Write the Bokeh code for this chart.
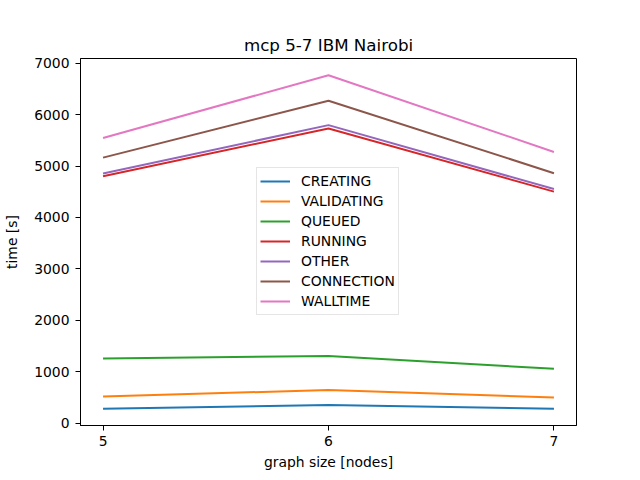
from bokeh.plotting import figure
from bokeh.models import Range1d, FixedTicker, Legend, LegendItem
from bokeh.embed import file_html
from bokeh.resources import INLINE

nodes = [5, 6, 7]
creating = [276, 348, 276]
validating = [514, 643, 495]
queued = [1256, 1306, 1055]
running = [4803, 5730, 4502]
other = [4855, 5796, 4552]
connection = [5164, 6271, 4861]
walltime = [5545, 6768, 5274]

series_names = ["CREATING", "VALIDATING", "QUEUED", "RUNNING", "OTHER", "CONNECTION", "WALLTIME"]
series_values = [creating, validating, queued, running, other, connection, walltime]
colors = ["#1f77b4", "#ff7f0e", "#2ca02c", "#d62728", "#9467bd", "#8c564b", "#e377c2"]
x_ticks = [5, 6, 7]
y_ticks = [0, 1000, 2000, 3000, 4000, 5000, 6000, 7000]

FONT = "DejaVu Sans"

all_vals = [v for s in series_values for v in s]
ymin, ymax = min(all_vals), max(all_vals)
ypad = 0.05 * (ymax - ymin)
xpad = 0.05 * (max(nodes) - min(nodes))

p = figure(width=632, height=472, output_backend="svg", toolbar_location=None,
           x_range=Range1d(min(nodes) - xpad, max(nodes) + xpad),
           y_range=Range1d(ymin - ypad, ymax + ypad),
           title="mcp 5-7 IBM Nairobi",
           x_axis_label="graph size [nodes]", y_axis_label="time [s]")
p.min_border_left = 80
p.min_border_right = 56
p.min_border_top = 58
p.min_border_bottom = 45

p.title.align = "center"
p.title.text_font = FONT
p.title.text_font_size = "16.7px"
p.title.text_font_style = "normal"
p.title.text_color = "black"
p.title.standoff = 8

p.xgrid.visible = False
p.ygrid.visible = False
p.outline_line_color = "black"
p.outline_line_alpha = 1
p.outline_line_width = 1
p.background_fill_color = "white"
p.border_fill_color = "white"

p.xaxis.ticker = FixedTicker(ticks=x_ticks)
p.yaxis.ticker = FixedTicker(ticks=y_ticks)
for ax in (p.xaxis[0], p.yaxis[0]):
    ax.axis_line_color = "black"
    ax.major_tick_line_color = "black"
    ax.major_tick_out = 5
    ax.major_tick_in = 0
    ax.minor_tick_line_color = None
    ax.major_label_text_font = FONT
    ax.major_label_text_font_size = "13.9px"
    ax.major_label_text_color = "black"
    ax.axis_label_text_font = FONT
    ax.axis_label_text_font_size = "13.9px"
    ax.axis_label_text_font_style = "normal"
    ax.axis_label_text_color = "black"
p.xaxis.major_label_standoff = 5
p.yaxis.major_label_standoff = 6
p.xaxis.axis_label_standoff = 5
p.yaxis.axis_label_standoff = 11

items = []
for name, vals, c in zip(series_names, series_values, colors):
    r = p.line(nodes, vals, line_color=c, line_width=2)
    items.append(LegendItem(label=name, renderers=[r]))

legend = Legend(items=items, location=(176, 110))
legend.label_text_font = FONT
legend.label_text_font_size = "13.9px"
legend.label_text_color = "black"
legend.label_height = 20
legend.glyph_height = 20
legend.glyph_width = 30
legend.label_standoff = 11
legend.spacing = 0
legend.padding = 3
legend.margin = 0
legend.border_line_color = "#cccccc"
legend.border_line_width = 1
legend.background_fill_alpha = 0.8
p.add_layout(legend)

open("out.html", "w").write(file_html(p, INLINE))
